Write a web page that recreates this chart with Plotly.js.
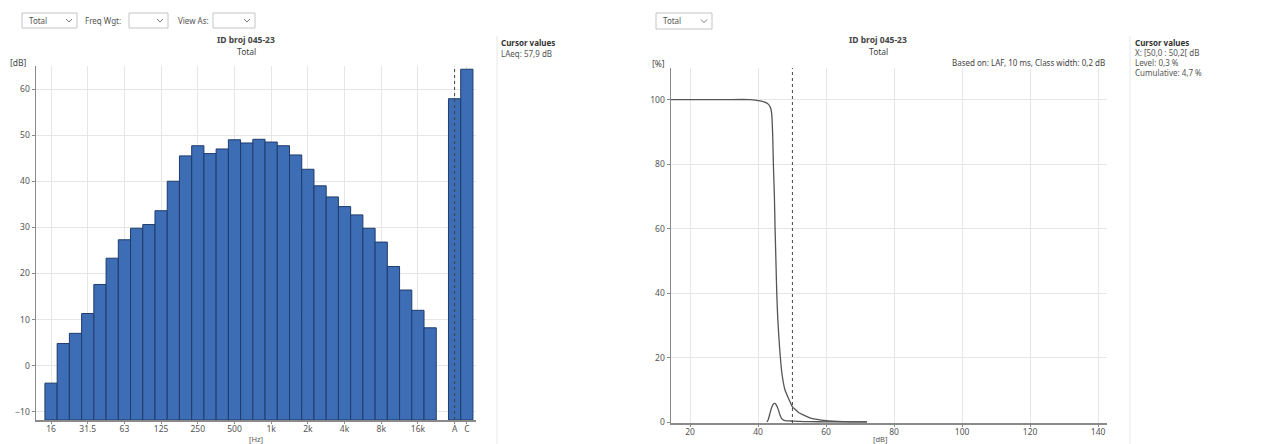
<!DOCTYPE html>
<html>
<head>
<meta charset="utf-8">
<script src="https://cdn.plot.ly/plotly-3.0.1.min.js"></script>
<style>html,body{margin:0;padding:0;background:#fff;}#chart{width:1281px;height:444px;}</style>
</head>
<body>
<div id="chart"></div>
<script>
// ---------- data ----------
const bandLabels = ['16','20','25','31.5','40','50','63','80','100','125','160','200','250','315','400','500','630','800','1k','1.25k','1.6k','2k','2.5k','3.15k','4k','5k','6.3k','8k','10k','12.5k','16k','20k'];
const bandLevels = [-3.8, 4.8, 7.0, 11.3, 17.6, 23.3, 27.3, 29.8, 30.6, 33.6, 40.0, 45.5, 47.7, 46.0, 47.0, 49.0, 48.3, 49.1, 48.5, 47.7, 45.7, 42.6, 39.0, 36.6, 34.5, 32.7, 29.8, 26.8, 21.5, 16.4, 12.0, 8.2];
const bandTickLabels = ['16','31.5','63','125','250','500','1k','2k','4k','8k','16k'];
const overallLabels = ['A','C'];
const overallLevels = [57.9, 64.3];

const levelX = [42.6, 43.0, 43.5, 44.0, 44.5, 45.0, 45.5, 46.0, 46.5, 47.0, 47.5, 48.0, 49.0, 50.1, 52.0, 55.0, 60.0, 65.0, 72.0];
const levelPct = [0, 0.8, 2.7, 4.5, 5.6, 5.8, 5.0, 3.7, 2.0, 1.0, 0.6, 0.45, 0.35, 0.3, 0.2, 0.12, 0.06, 0.03, 0.02];
const cumX = [14.4, 20, 30, 37.6, 40.6, 42.0, 43.0, 43.6, 44.0, 44.3, 44.5, 44.8, 45.0, 45.3, 45.5, 45.8, 46.3, 47.0, 47.9, 49.4, 50.1, 50.7, 52.0, 53.3, 55.0, 57.3, 60.0, 65.0, 72.0];
const cumPct = [100, 100, 100, 100, 99.6, 99.2, 98.6, 97.6, 95.7, 89, 80, 70, 60, 48, 40, 32, 23.5, 15.2, 10.0, 6.3, 4.7, 4.1, 2.9, 2.2, 1.4, 0.8, 0.4, 0.15, 0.05];

const cursorLeftLabel = 'A';
const cursorRightX = 50.1;

// ---------- helpers ----------
const W = 1281, H = 444;
const px = x => x / W;
const py = y => 1 - y / H;
const FONT = 'Noto Sans, Open Sans, sans-serif';

// positions for bars: bands at their index, gap of one slot, then A / C
const bandPos = bandLabels.map((_, i) => i);
const overallPos = overallLabels.map((_, i) => bandLabels.length + 1 + i);
const leftTickVals = bandTickLabels.map(l => bandLabels.indexOf(l)).concat(overallPos);
const leftTickText = bandTickLabels.concat(overallLabels);
const leftYMin = -11.8;

const barColor = '#3c6db5';
const barLine = '#1f3c6c';

const traces = [
  {type: 'bar', x: bandPos.concat(overallPos), y: bandLevels.concat(overallLevels).map(v => v - leftYMin), base: leftYMin,
   width: 1, marker: {color: barColor, line: {color: barLine, width: 1}}, xaxis: 'x', yaxis: 'y', hoverinfo: 'skip'},
  {type: 'scatter', mode: 'lines', x: cumX, y: cumPct, line: {color: '#555', width: 1.3, shape: 'spline', smoothing: 0.6},
   xaxis: 'x2', yaxis: 'y2', hoverinfo: 'skip'},
  {type: 'scatter', mode: 'lines', x: levelX, y: levelPct, line: {color: '#555', width: 1.3, shape: 'spline', smoothing: 0.6},
   xaxis: 'x2', yaxis: 'y2', hoverinfo: 'skip'}
];

const axCommon = {
  showline: true, linecolor: '#8a8a8a', linewidth: 1.5, ticks: 'outside', ticklen: 3, tickcolor: '#8a8a8a',
  showgrid: true, gridcolor: '#e6e6e6', gridwidth: 1, zeroline: false,
  tickfont: {family: FONT, size: 8.5, color: '#555'}
};
const xCommon = Object.assign({}, axCommon, {ticklen: 2, ticklabelstandoff: -2});

const shapes = [];
const annotations = [];

function dropdown(x0, x1, y0, y1, label) {
  shapes.push({type: 'rect', xref: 'paper', yref: 'paper', x0: px(x0), x1: px(x1), y0: py(y1), y1: py(y0),
    line: {color: '#c4c4c4', width: 1}, fillcolor: '#fff'});
  const cx = x1 - 8, cy = (y0 + y1) / 2;
  shapes.push({type: 'path', xref: 'paper', yref: 'paper',
    path: `M ${px(cx - 3)} ${py(cy - 1.5)} L ${px(cx)} ${py(cy + 1.5)} L ${px(cx + 3)} ${py(cy - 1.5)}`,
    line: {color: '#777', width: 1}});
  if (label) annotations.push({xref: 'paper', yref: 'paper', x: px(x0 + 5), y: py(cy), xanchor: 'left', yanchor: 'middle',
    text: label, showarrow: false, font: {family: FONT, size: 8, color: '#555'}});
}
function txt(x, y, t, opts) {
  annotations.push(Object.assign({xref: 'paper', yref: 'paper', x: px(x), y: py(y), xanchor: 'left', yanchor: 'middle',
    text: t, showarrow: false, font: {family: FONT, size: 8.5, color: '#444'}}, opts || {}));
}

// controls
dropdown(22, 77, 13, 28, 'Total');
txt(83, 20.5, 'Freq Wgt:', {font: {family: FONT, size: 8, color: '#555'}});
dropdown(129, 168, 13, 28, '');
txt(176, 20.5, 'View As:', {font: {family: FONT, size: 8, color: '#555'}});
dropdown(213, 255, 13, 28, '');
dropdown(656, 712, 13, 29, 'Total');

// titles
txt(246, 40, '<b>ID broj 045-23</b>', {xanchor: 'center'});
txt(246, 51, 'Total', {xanchor: 'center'});
txt(878, 40, '<b>ID broj 045-23</b>', {xanchor: 'center'});
txt(878, 51, 'Total', {xanchor: 'center'});
txt(8, 62, '[dB]');
txt(650, 64, '[%]');
txt(256, 439, '[Hz]', {xanchor: 'center', font: {family: FONT, size: 7.5, color: '#555'}});
txt(880, 439, '[dB]', {xanchor: 'center', font: {family: FONT, size: 7.5, color: '#555'}});
txt(1107, 62, 'Based on: LAF, 10 ms, Class width: 0,2 dB', {xanchor: 'right', font: {family: FONT, size: 8, color: '#444'}});

// cursor panels
shapes.push({type: 'line', xref: 'paper', yref: 'paper', x0: px(497), x1: px(497), y0: py(36), y1: py(444), line: {color: '#e8e8e8', width: 1}});
shapes.push({type: 'line', xref: 'paper', yref: 'paper', x0: px(1130), x1: px(1130), y0: py(36), y1: py(444), line: {color: '#e8e8e8', width: 1}});
txt(499, 42, '<b>Cursor values</b>', {font: {family: FONT, size: 8, color: '#333'}});
txt(499, 53, 'LAeq: 57,9 dB', {font: {family: FONT, size: 8, color: '#555'}});
txt(1133, 42, '<b>Cursor values</b>', {font: {family: FONT, size: 8, color: '#333'}});
txt(1133, 52, 'X: [50,0 : 50,2[ dB', {font: {family: FONT, size: 8, color: '#555'}});
txt(1133, 62, 'Level: 0,3 %', {font: {family: FONT, size: 8, color: '#555'}});
txt(1133, 72, 'Cumulative: 4,7 %', {font: {family: FONT, size: 8, color: '#555'}});

// cursor lines (data coordinates)
const cursorIdx = overallPos[overallLabels.indexOf(cursorLeftLabel)];
shapes.push({type: 'line', xref: 'x', yref: 'paper', x0: cursorIdx, x1: cursorIdx, y0: py(420), y1: py(66),
  line: {color: '#444', width: 1, dash: 'dot'}});
shapes.push({type: 'line', xref: 'x2', yref: 'paper', x0: cursorRightX, x1: cursorRightX, y0: py(423), y1: py(68),
  line: {color: '#444', width: 1, dash: 'dot'}});

const layout = {
  width: W, height: H, margin: {l: 0, r: 0, t: 0, b: 0}, paper_bgcolor: '#fff', plot_bgcolor: '#fff',
  showlegend: false, bargap: 0,
  xaxis: Object.assign({}, xCommon, {domain: [px(36), px(476)], range: [-1.23, 34.75], tickvals: leftTickVals, ticktext: leftTickText, anchor: 'y'}),
  yaxis: Object.assign({}, axCommon, {domain: [py(420), py(66)], range: [leftYMin, 65.0], tickvals: [-10, 0, 10, 20, 30, 40, 50, 60], anchor: 'x'}),
  xaxis2: Object.assign({}, xCommon, {domain: [px(671), px(1107)], range: [14.4, 142.6], tickvals: [20, 40, 60, 80, 100, 120, 140], anchor: 'y2'}),
  yaxis2: Object.assign({}, axCommon, {domain: [py(423), py(68)], range: [-0.3, 109.8], tickvals: [0, 20, 40, 60, 80, 100], anchor: 'x2'}),
  shapes: shapes, annotations: annotations
};

Plotly.newPlot('chart', traces, layout, {staticPlot: true});
</script>
</body>
</html>
